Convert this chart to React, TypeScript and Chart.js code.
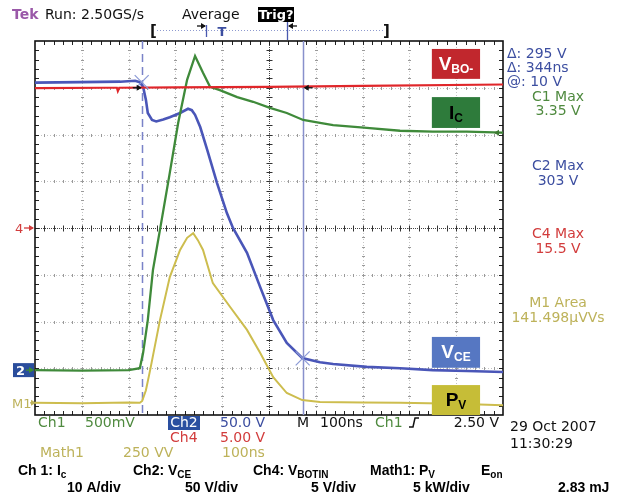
import React, { useEffect, useRef } from "react";
import { Chart, registerables } from "chart.js";

Chart.register(...registerables);

// Horizontal: time in ns (100 ns/div, 10 div). Vertical: screen divisions (-4..4).
const xTicksNs = [0, 100, 200, 300, 400, 500, 600, 700, 800, 900, 1000];
const yTicksDiv = [-4, -3, -2, -1, 0, 1, 2, 3, 4];

// Ch4: V_BO- (red)
const vboTimeNs = [0, 150, 175, 177, 180, 300, 500, 700, 1000];
const vboDiv = [2.99, 3.0, 3.0, 2.93, 3.0, 3.01, 3.02, 3.04, 3.07];

// Ch1: I_C (green)
const icTimeNs = [0, 100, 200, 224, 231, 241, 252, 267, 288, 306, 325, 342, 359, 374, 395, 432, 466, 502, 538, 573, 609, 637, 709, 780, 850, 923, 1000];
const icDiv = [-3.04, -3.05, -3.04, -3.0, -2.67, -1.97, -0.9, -0.04, 1.18, 2.25, 3.17, 3.68, 3.32, 3.02, 2.95, 2.8, 2.7, 2.57, 2.46, 2.31, 2.25, 2.2, 2.14, 2.08, 2.06, 2.06, 2.04];

// Ch2: V_CE (blue)
const vceTimeNs = [0, 96, 182, 214, 224, 231, 237, 241, 250, 259, 274, 288, 310, 327, 335, 342, 353, 368, 389, 410, 423, 453, 481, 509, 538, 571, 609, 637, 709, 780, 850, 923, 1000];
const vceDiv = [3.11, 3.12, 3.13, 3.15, 3.12, 3.02, 2.74, 2.46, 2.31, 2.28, 2.32, 2.37, 2.46, 2.55, 2.52, 2.42, 2.16, 1.67, 0.96, 0.32, 0.0, -0.53, -1.26, -1.97, -2.46, -2.78, -2.87, -2.91, -2.97, -3.0, -3.04, -3.06, -3.08];

// Math1: P_V (yellow)
const pvTimeNs = [0, 100, 200, 224, 229, 237, 246, 267, 288, 310, 325, 338, 348, 359, 380, 417, 453, 481, 509, 538, 571, 609, 700, 780, 900, 1000];
const pvDiv = [-3.74, -3.75, -3.73, -3.74, -3.7, -3.47, -3.04, -1.97, -1.05, -0.47, -0.21, -0.11, -0.26, -0.47, -1.18, -1.69, -2.18, -2.67, -3.19, -3.53, -3.68, -3.72, -3.73, -3.74, -3.76, -3.79];

// Cursors
const cursorTimesNs = [228, 572];
const cursorLevelsDiv = [3.12, -2.79];
const ch4ArrowLevelDiv = 3.0;
const triggerLevelDiv = 2.04;

// Channel reference markers
const ch2RefDiv = -3.04;
const ch4RefDiv = 0;
const m1RefDiv = -3.74;

// Label boxes (ns / div extents)
const boxLeftNs = 848;
const boxRightNs = 951;
const labelMain = ["V", "I", "V", "P"];
const labelSub = ["BO-", "C", "CE", "V"];
const labelTopDiv = [3.83, 2.8, -2.33, -3.36];
const labelBottomDiv = [3.19, 2.14, -2.99, -4.0];
const labelFill = ["#c1272d", "#2e7b3b", "#5677c2", "#c6bd37"];
const labelInk = ["#ffffff", "#000000", "#ffffff", "#000000"];

const C_BLUE = "#3c4ea0";
const C_GREEN = "#4f8a3f";
const C_RED = "#d23c3c";
const C_YELLOW = "#bdb25a";
const SF = '"DejaVu Sans", sans-serif';
const AF = '"Liberation Sans", Arial, sans-serif';

function mk(t: number[], v: number[]) {
  return t.map((x, i) => ({ x, y: v[i] }));
}

function seg(ctx: CanvasRenderingContext2D, x1: number, y1: number, x2: number, y2: number) {
  ctx.beginPath();
  ctx.moveTo(x1, y1);
  ctx.lineTo(x2, y2);
  ctx.stroke();
}

function arrowH(ctx: CanvasRenderingContext2D, x1: number, y: number, x2: number, color: string) {
  ctx.save();
  ctx.strokeStyle = color;
  ctx.fillStyle = color;
  ctx.lineWidth = 1.3;
  seg(ctx, x1, y, x2, y);
  const d = x2 > x1 ? 1 : -1;
  ctx.beginPath();
  ctx.moveTo(x2 + d * 1, y);
  ctx.lineTo(x2 - d * 4, y - 3);
  ctx.lineTo(x2 - d * 4, y + 3);
  ctx.closePath();
  ctx.fill();
  ctx.restore();
}

function subText(
  ctx: CanvasRenderingContext2D, x: number, y: number, main: string, sub: string,
  mainFont: string, subFont: string, color: string, dy: number, center = false
) {
  ctx.font = mainFont;
  const w1 = ctx.measureText(main).width;
  ctx.font = subFont;
  const w2 = ctx.measureText(sub).width;
  const sx = center ? x - (w1 + w2) / 2 : x;
  ctx.fillStyle = color;
  ctx.textAlign = "left";
  ctx.textBaseline = "alphabetic";
  ctx.font = mainFont;
  ctx.fillText(main, sx, y);
  ctx.font = subFont;
  ctx.fillText(sub, sx + w1, y + dy);
}

function txt(ctx: CanvasRenderingContext2D, s: string, x: number, y: number, color: string, font: string, align: CanvasTextAlign = "left") {
  ctx.font = font;
  ctx.fillStyle = color;
  ctx.textAlign = align;
  ctx.textBaseline = "alphabetic";
  ctx.fillText(s, x, y);
}

const overlay = {
  id: "scopeOverlay",
  beforeDraw(chart: any) {
    const ctx = chart.ctx as CanvasRenderingContext2D;
    ctx.save();
    ctx.fillStyle = "#ffffff";
    ctx.fillRect(0, 0, chart.width, chart.height);
    ctx.restore();
  },
  beforeDatasetsDraw(chart: any) {
    const ctx = chart.ctx as CanvasRenderingContext2D;
    const a = chart.chartArea;
    const xs = chart.scales.x;
    const ys = chart.scales.y;
    const px = (v: number) => Math.round(xs.getPixelForValue(v)) + 0.5;
    const py = (v: number) => Math.round(ys.getPixelForValue(v)) + 0.5;
    ctx.save();
    ctx.lineWidth = 1;
    // major dotted lines
    ctx.strokeStyle = "#c4c4c4";
    ctx.setLineDash([1, 2]);
    xTicksNs.forEach((t) => {
      if (t === 0 || t === 1000 || t === 500) return;
      seg(ctx, px(t), a.top, px(t), a.bottom);
    });
    yTicksDiv.forEach((v) => {
      if (v === -4 || v === 4 || v === 0) return;
      seg(ctx, a.left, py(v), a.right, py(v));
    });
    ctx.setLineDash([]);
    // minor marks along major lines
    ctx.fillStyle = "#9a9a9a";
    xTicksNs.forEach((t) => {
      if (t === 0 || t === 1000 || t === 500) return;
      const X = px(t);
      for (let k = 1; k < 40; k++) {
        const Y = Math.round(ys.getPixelForValue(-4 + k * 0.2));
        ctx.fillRect(X - 1.5, Y, 3, 1);
      }
    });
    yTicksDiv.forEach((v) => {
      if (v === -4 || v === 4 || v === 0) return;
      const Y = py(v);
      for (let k = 1; k < 50; k++) {
        const X = Math.round(xs.getPixelForValue(k * 20));
        ctx.fillRect(X, Y - 1.5, 1, 3);
      }
    });
    // center crosshair
    const cx = px(500);
    const cy = py(0);
    ctx.strokeStyle = "#444";
    ctx.setLineDash([1, 1]);
    seg(ctx, cx, a.top, cx, a.bottom);
    seg(ctx, a.left, cy, a.right, cy);
    ctx.setLineDash([]);
    ctx.strokeStyle = "#333";
    for (let k = 1; k < 50; k++) {
      const X = px(k * 20);
      seg(ctx, X, cy - 3, X, cy + 3);
    }
    for (let k = 1; k < 40; k++) {
      const Y = py(-4 + k * 0.2);
      seg(ctx, cx - 3, Y, cx + 3, Y);
    }
    // border with inward ticks
    ctx.strokeStyle = "#222";
    for (let k = 1; k < 50; k++) {
      const X = px(k * 20);
      seg(ctx, X, a.top, X, a.top + 4);
      seg(ctx, X, a.bottom, X, a.bottom - 4);
    }
    for (let k = 1; k < 40; k++) {
      const Y = py(-4 + k * 0.2);
      seg(ctx, a.left, Y, a.left + 4, Y);
      seg(ctx, a.right, Y, a.right - 4, Y);
    }
    ctx.lineWidth = 1.6;
    ctx.strokeStyle = "#111";
    ctx.strokeRect(a.left, a.top, a.right - a.left, a.bottom - a.top);

    // cursors
    ctx.lineWidth = 1.5;
    ctx.strokeStyle = "#7a82c8";
    ctx.setLineDash([8, 5]);
    seg(ctx, px(cursorTimesNs[0]), a.top, px(cursorTimesNs[0]), a.bottom);
    ctx.setLineDash([]);
    ctx.strokeStyle = "#8890cc";
    seg(ctx, px(cursorTimesNs[1]), a.top, px(cursorTimesNs[1]), a.bottom);
    ctx.restore();
  },
  afterDatasetsDraw(chart: any) {
    const ctx = chart.ctx as CanvasRenderingContext2D;
    const a = chart.chartArea;
    const xs = chart.scales.x;
    const ys = chart.scales.y;
    const px = (v: number) => xs.getPixelForValue(v);
    const py = (v: number) => ys.getPixelForValue(v);
    ctx.save();

    // cursor X markers
    ctx.strokeStyle = "#8c9ad6";
    ctx.lineWidth = 1.2;
    cursorTimesNs.forEach((t, i) => {
      const X = px(t);
      const Y = py(cursorLevelsDiv[i]);
      seg(ctx, X - 7, Y - 7, X + 7, Y + 7);
      seg(ctx, X - 7, Y + 7, X + 7, Y - 7);
    });
    // cursor arrows on ch4
    const yA = py(ch4ArrowLevelDiv);
    arrowH(ctx, px(cursorTimesNs[0]) - 9, yA, px(cursorTimesNs[0]) - 1, "#111");
    arrowH(ctx, px(cursorTimesNs[1]) + 10, yA, px(cursorTimesNs[1]) + 2, "#111");
    // trigger level arrow
    arrowH(ctx, a.right - 1, py(triggerLevelDiv), a.right - 8, "#3d7a32");

    // label boxes
    for (let i = 0; i < labelMain.length; i++) {
      const x1 = px(boxLeftNs);
      const x2 = px(boxRightNs);
      const y1 = py(labelTopDiv[i]);
      const y2 = py(labelBottomDiv[i]);
      ctx.fillStyle = labelFill[i];
      ctx.fillRect(x1, y1, x2 - x1, y2 - y1);
      subText(ctx, (x1 + x2) / 2, (y1 + y2) / 2 + 6, labelMain[i], labelSub[i],
        `bold 19px ${AF}`, `bold 12px ${AF}`, labelInk[i], 3, true);
    }

    // left reference markers
    const y4 = py(ch4RefDiv);
    txt(ctx, "4", 15, y4 + 5, C_RED, `13px ${SF}`);
    arrowH(ctx, 24, y4, 33, C_RED);
    const y2 = py(ch2RefDiv);
    ctx.fillStyle = "#2a4d9c";
    ctx.fillRect(13, y2 - 7, 21, 14);
    txt(ctx, "2", 16, y2 + 5, "#ffffff", `bold 13px ${SF}`);
    arrowH(ctx, 26, y2, 33, "#3d8a32");
    const ym = py(m1RefDiv);
    txt(ctx, "M1", 12, ym + 5, C_YELLOW, `13px ${SF}`);
    arrowH(ctx, 30, ym, 35, C_YELLOW);

    // top status line
    txt(ctx, "Tek", 12, 19, "#9a58a8", `bold 14px ${SF}`);
    txt(ctx, "Run: 2.50GS/s", 45, 19, "#111", `14px ${SF}`);
    txt(ctx, "Average", 182, 19, "#111", `14px ${SF}`);
    ctx.fillStyle = "#000";
    ctx.fillRect(258, 7, 36, 15);
    txt(ctx, "Trig?", 276, 19, "#fff", `bold 13px ${SF}`, "center");
    // record bracket
    txt(ctx, "[", 150, 36, "#111", `bold 15px ${SF}`);
    txt(ctx, "]", 383, 36, "#111", `bold 15px ${SF}`);
    ctx.strokeStyle = "#8e9ad0";
    ctx.lineWidth = 1;
    ctx.setLineDash([1, 2]);
    seg(ctx, 157, 30.5, 383, 30.5);
    ctx.setLineDash([]);
    arrowH(ctx, 197, 26, 205, "#111");
    ctx.strokeStyle = "#4a5ab0";
    ctx.lineWidth = 1.3;
    seg(ctx, 206.5, 25, 206.5, 37);
    txt(ctx, "T", 222, 36, "#3c4ea0", `bold 13px ${SF}`, "center");
    seg(ctx, 287.5, 22, 287.5, 40);
    arrowH(ctx, 297, 26, 289, "#111");

    // right readouts
    const R = 507;
    const RC = 558;
    const f = `14px ${SF}`;
    txt(ctx, "\u0394: 295 V", R, 58, C_BLUE, f);
    txt(ctx, "\u0394: 344ns", R, 72, C_BLUE, f);
    txt(ctx, "@: 10 V", R, 86, C_BLUE, f);
    txt(ctx, "C1 Max", RC, 101, C_GREEN, f, "center");
    txt(ctx, "3.35 V", RC, 115, C_GREEN, f, "center");
    txt(ctx, "C2 Max", RC, 170, C_BLUE, f, "center");
    txt(ctx, "303 V", RC, 185, C_BLUE, f, "center");
    txt(ctx, "C4 Max", RC, 238, C_RED, f, "center");
    txt(ctx, "15.5 V", RC, 253, C_RED, f, "center");
    txt(ctx, "M1 Area", RC, 307, C_YELLOW, f, "center");
    txt(ctx, "141.498\u00b5VVs", RC, 322, C_YELLOW, f, "center");

    // bottom scope readouts
    txt(ctx, "Ch1", 38, 427, C_GREEN, f);
    txt(ctx, "500mV", 85, 427, C_GREEN, f);
    ctx.fillStyle = "#2a4fa0";
    ctx.fillRect(168, 416, 32, 14);
    txt(ctx, "Ch2", 184, 427, "#fff", f, "center");
    txt(ctx, "50.0 V", 220, 427, C_BLUE, f);
    txt(ctx, "M", 297, 427, "#111", f);
    txt(ctx, "100ns", 320, 427, "#111", f);
    txt(ctx, "Ch1", 375, 427, C_GREEN, f);
    ctx.strokeStyle = "#111";
    ctx.lineWidth = 1.5;
    ctx.beginPath();
    ctx.moveTo(409, 427);
    ctx.lineTo(413, 427);
    ctx.lineTo(415, 418);
    ctx.lineTo(419, 418);
    ctx.stroke();
    txt(ctx, "2.50 V", 499, 427, "#111", f, "right");
    txt(ctx, "Ch4", 170, 442, C_RED, f);
    txt(ctx, "5.00 V", 220, 442, C_RED, f);
    txt(ctx, "Math1", 40, 457, C_YELLOW, f);
    txt(ctx, "250 VV", 123, 457, C_YELLOW, f);
    txt(ctx, "100ns", 222, 457, C_YELLOW, f);
    txt(ctx, "29 Oct 2007", 510, 431, "#111", f);
    txt(ctx, "11:30:29", 510, 448, "#111", f);

    // bottom legend (bold)
    const bf = `bold 14px ${AF}`;
    const bs = `bold 10px ${AF}`;
    subText(ctx, 18, 475, "Ch 1: I", "c", bf, bs, "#000", 3);
    subText(ctx, 133, 475, "Ch2: V", "CE", bf, bs, "#000", 3);
    subText(ctx, 253, 475, "Ch4: V", "BOTIN", bf, bs, "#000", 3);
    subText(ctx, 370, 475, "Math1: P", "V", bf, bs, "#000", 3);
    subText(ctx, 481, 475, "E", "on", bf, bs, "#000", 3);
    txt(ctx, "10 A/div", 67, 492, "#000", bf);
    txt(ctx, "50 V/div", 185, 492, "#000", bf);
    txt(ctx, "5 V/div", 311, 492, "#000", bf);
    txt(ctx, "5 kW/div", 413, 492, "#000", bf);
    txt(ctx, "2.83 mJ", 558, 492, "#000", bf);

    ctx.restore();
  },
};

export default function App() {
  const ref = useRef<HTMLCanvasElement>(null);
  useEffect(() => {
    const canvas = ref.current!;
    const ds = (label: string, t: number[], v: number[], color: string, w: number) => ({
      label,
      data: mk(t, v),
      borderColor: color,
      backgroundColor: color,
      borderWidth: w,
      pointRadius: 0,
      tension: 0,
      fill: false,
    });
    const chart = new Chart(canvas, {
      type: "line",
      data: {
        datasets: [
          ds("Ch4 V_BO-", vboTimeNs, vboDiv, "#e0262a", 2.2),
          ds("Ch1 I_C", icTimeNs, icDiv, "#3f8a3a", 2.3),
          ds("Ch2 V_CE", vceTimeNs, vceDiv, "#4a56b8", 2.6),
          ds("Math1 P_V", pvTimeNs, pvDiv, "#cdbd4e", 2),
        ],
      },
      options: {
        responsive: false,
        animation: false,
        devicePixelRatio: 1,
        events: [],
        layout: { padding: { left: 35, top: 41, right: 118, bottom: 79 } },
        plugins: { legend: { display: false }, tooltip: { enabled: false } },
        scales: {
          x: { type: "linear", min: 0, max: 1000, display: false },
          y: { type: "linear", min: -4, max: 4, display: false },
        },
      },
      plugins: [overlay],
    });
    return () => chart.destroy();
  }, []);
  return (
    <div style={{ position: "absolute", left: 0, top: 0 }}>
      <canvas ref={ref} width={621} height={494} style={{ display: "block" }} />
    </div>
  );
}
